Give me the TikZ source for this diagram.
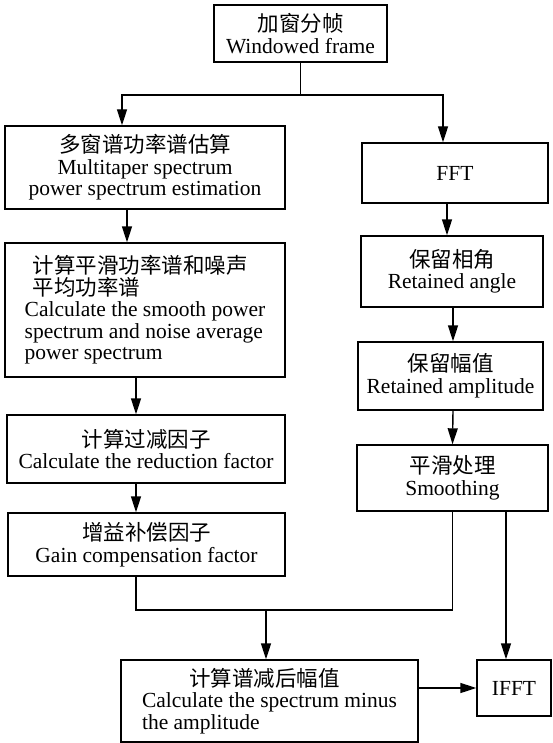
\documentclass[tikz,border=0pt]{standalone}
\usepackage{fontspec}
\setmainfont{Liberation Serif}
\newfontfamily\cjk{Noto Sans CJK SC}
\usetikzlibrary{arrows.meta, positioning, calc}

\begin{document}
\begin{tikzpicture}[x=1pt,y=-1pt,
  blk/.style={rectangle,draw,line width=1.4pt,inner sep=2pt,align=center,font=\fontsize{21.5}{21.5}\selectfont},
  ln/.style={line width=1.4pt},
  fl/.style={-{Triangle[length=16pt,width=10pt]},line width=1.4pt}
]
  \useasboundingbox (0,0) rectangle (552,743);

  \node[blk,minimum width=173pt,minimum height=57pt](frame) at (300.5,33.5){{\cjk 加窗分帧}\\Windowed frame};
  \node[blk,minimum width=280pt,minimum height=83pt](mtaper) at (145,167.5){{\cjk 多窗谱功率谱估算}\\Multitaper spectrum\\power spectrum estimation};
  \node[blk,align=left,minimum width=280pt,minimum height=134pt](psd) at (145,310){\hspace*{8pt}{\cjk 计算平滑功率谱和噪声}\\\hspace*{8pt}{\cjk 平均功率谱}\\Calculate the smooth power\\spectrum and noise average\\power spectrum};
  \node[blk,minimum width=278pt,minimum height=68pt](reduce) at (146,449){{\cjk 计算过减因子}\\Calculate the reduction factor};
  \node[blk,minimum width=277pt,minimum height=63pt](gain) at (146.5,544.5){{\cjk 增益补偿因子}\\Gain compensation factor};
  \node[blk,align=left,minimum width=297pt,minimum height=82pt](minus) at (269.5,701){\hspace*{47pt}{\cjk 计算谱减后幅值}\\Calculate the spectrum minus\\the amplitude};
  \node[blk,minimum width=186pt,minimum height=60pt](fft) at (455,173){FFT};
  \node[blk,minimum width=182pt,minimum height=71pt](angle) at (452,271.5){{\cjk 保留相角}\\Retained angle};
  \node[blk,minimum width=185pt,minimum height=68pt](ampl) at (450.5,376){{\cjk 保留幅值}\\Retained amplitude};
  \node[blk,minimum width=191pt,minimum height=66pt](smth) at (452.5,478){{\cjk 平滑处理}\\Smoothing};
  \node[blk,minimum width=74pt,minimum height=56pt](ifft) at (514,688){IFFT};

  \coordinate (split) at (300.5,95);
  \coordinate (join) at (266,610);

  \draw[ln](frame.south)--(split);
  \draw[fl](split)-|([xshift=-23pt]mtaper.north);
  \draw[fl](split)-|([xshift=-12pt]fft.north);
  \draw[fl]([xshift=-18pt]mtaper.south)--([xshift=-18pt]psd.north);
  \draw[fl]([xshift=-9pt]psd.south)--([xshift=-10pt]reduce.north);
  \draw[fl]([xshift=-10pt]reduce.south)--([xshift=-10.5pt]gain.south |- gain.north);
  \draw[fl]([xshift=-8pt]fft.south)--([xshift=-5pt]angle.north);
  \draw[fl]([xshift=1pt]angle.south)--([xshift=2.5pt]ampl.north);
  \draw[fl]([xshift=2.5pt]ampl.south)--(smth.north);
  \draw[ln]([xshift=-10.5pt]gain.south)|-(join)-|(smth.south);
  \draw[fl](join)--(join |- minus.north);
  \draw[fl]([xshift=53.5pt]smth.south)--([xshift=-8pt]ifft.north);
  \draw[fl](minus.east |- ifft)--(ifft.west);
\end{tikzpicture}
\end{document}
